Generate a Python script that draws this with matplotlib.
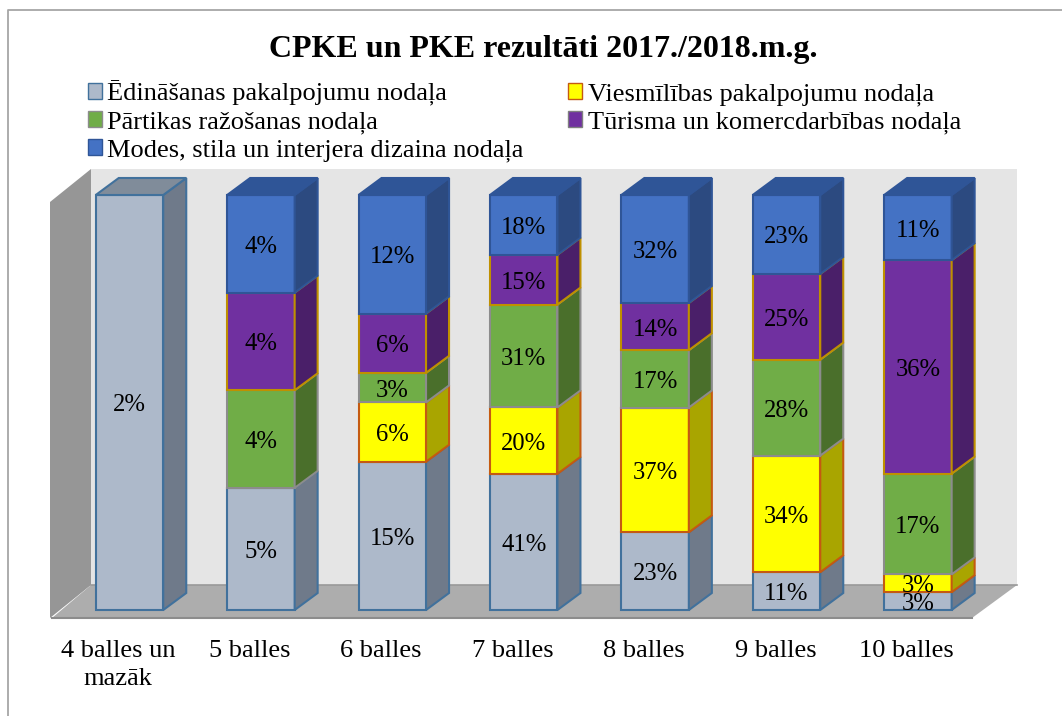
import matplotlib
matplotlib.use("Agg")
import matplotlib.pyplot as plt
from matplotlib.patches import Polygon, Patch
from matplotlib.lines import Line2D

plt.rcParams['font.family'] = ['Liberation Serif', 'DejaVu Serif']

categories = ["4 balles un\nmazāk", "5 balles", "6 balles", "7 balles", "8 balles", "9 balles", "10 balles"]
series_names = ["Ēdināšanas pakalpojumu nodaļa", "Viesmīlības pakalpojumu nodaļa", "Pārtikas ražošanas nodaļa",
                "Tūrisma un komercdarbības nodaļa", "Modes, stila un interjera dizaina nodaļa"]
edinasana = [2, 5, 15, 41, 23, 11, 3]
viesmiliba = [0, 0, 6, 20, 37, 34, 3]
partika = [0, 4, 3, 31, 17, 28, 17]
turisms = [0, 4, 6, 15, 14, 25, 36]
modes = [0, 4, 12, 18, 32, 23, 11]
series = [edinasana, viesmiliba, partika, turisms, modes]

front = ["#ADB9CA", "#FFFF00", "#70AD47", "#7030A0", "#4472C4"]
side = ["#6F7A8A", "#A9A500", "#4A6F2B", "#4A1F69", "#2C4A80"]
top = ["#808C9A", "#B8B400", "#55803A", "#55257A", "#2F5597"]
edge = ["#41719C", "#C55A11", "#8C8C8C", "#BF9000", "#2F5597"]

W = 1062
H = 716
fig = plt.figure(figsize=(W / 100, H / 100), dpi=100, facecolor="white")
ax = fig.add_axes([0, 0, 1, 1])
# one category = 131.4 px, full stack = 415 px
ax.set_xlim(-129.5 / 131.4, (W - 129.5) / 131.4)
ax.set_ylim((610 - H) / 415, 610 / 415)
ax.axis("off")


def px(x, y):
    return (x - 129.5) / 131.4, (610 - y) / 415


bw = 67.5 / 131.4
dx = 23 / 131.4
dy = 17 / 415

# frame of the chart
ax.add_line(Line2D(*zip(px(8, H), px(8, 10), px(W, 10)), color="#A6A6A6", lw=1.3))

# walls and floor
ax.add_patch(Polygon([px(91, 169), px(1017, 169), px(1017, 585), px(91, 585)], fc="#E5E5E5", ec="none"))
ax.add_patch(Polygon([px(50, 202), px(91, 169), px(91, 585), px(50, 618)], fc="#969696", ec="none"))
ax.add_patch(Polygon([px(52, 618), px(91, 585), px(1017, 585), px(972, 618)], fc="#ADADAD", ec="none"))
ax.add_line(Line2D(*zip(px(91, 585), px(1017, 585)), color="#999999", lw=1.2))
ax.add_line(Line2D(*zip(px(52, 618), px(972, 618)), color="#8C8C8C", lw=1.5))

for i in range(len(categories)):
    total = sum(s[i] for s in series)
    bottom = 0.0
    last = max(j for j, s in enumerate(series) if s[i] > 0)
    for j, s in enumerate(series):
        if s[i] == 0:
            continue
        h = s[i] / total
        left = i - bw / 2
        right = i + bw / 2
        ax.bar(i, h, bw, bottom=bottom, color=front[j], edgecolor=edge[j], linewidth=1.5, zorder=3)
        ax.add_patch(Polygon([(right, bottom), (right + dx, bottom + dy), (right + dx, bottom + h + dy), (right, bottom + h)],
                             fc=side[j], ec=edge[j], lw=1.5, zorder=3))
        if j == last:
            ax.add_patch(Polygon([(left, bottom + h), (left + dx, bottom + h + dy), (right + dx, bottom + h + dy), (right, bottom + h)],
                                 fc=top[j], ec=edge[j], lw=1.5, zorder=3))
        ax.text(i, bottom + h / 2 - 3 / 415, f"{s[i]}%", ha="center", va="center", fontsize=17.7, color="black", zorder=5)
        bottom += h
    ax.text(i - 0.085, px(0, 640)[1], categories[i], ha="center", va="top", fontsize=19, color="black", linespacing=1.35)

ax.text(px(543, 0)[0], px(0, 50)[1], "CPKE un PKE rezultāti 2017./2018.m.g.", ha="center", va="center",
        fontsize=23, fontweight="bold", color="black")

# legend fills down the columns
order = [0, 2, 4, 1, 3]
handles = [Patch(fc=front[k], ec=edge[k] if k != 3 else "#7F7F7F", lw=1.0, label=series_names[k]) for k in order]
ax.legend(handles=handles, ncols=2, loc="upper left", bbox_to_anchor=(87.5 / W, 1 - 80 / H), frameon=False,
          fontsize=19, handlelength=0.55, handleheight=0.55, handletextpad=0.2, labelspacing=0.21,
          columnspacing=1.67, borderpad=0, borderaxespad=0)

fig.savefig("out.png", dpi=100)
